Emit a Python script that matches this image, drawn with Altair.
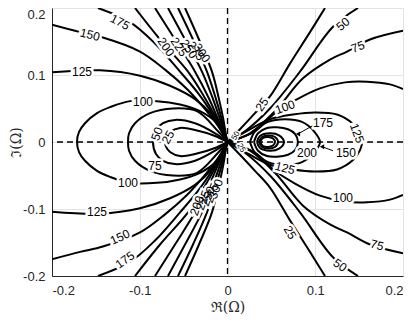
import altair as alt
import pandas as pd

# ---------------- data (upper half-plane; the figure is symmetric) ----
# Left fan contours: boundary -> origin
fan_left = {
    125: [(-0.200, 0.104), (-0.1453, 0.107), (-0.0997, 0.099), (-0.0655, 0.084), (-0.0370, 0.064), (-0.0177, 0.040), (-0.0063, 0.016), (0, 0)],
    150: [(-0.200, 0.175), (-0.168, 0.164), (-0.142, 0.156), (-0.0997, 0.135), (-0.0712, 0.108), (-0.0462, 0.079), (-0.0256, 0.049), (-0.0108, 0.024), (0, 0)],
    175: [(-0.1476, 0.200), (-0.1111, 0.179), (-0.0826, 0.147), (-0.0541, 0.105), (-0.0336, 0.073), (-0.0177, 0.043), (-0.0063, 0.018), (0, 0)],
    200: [(-0.1054, 0.200), (-0.0769, 0.153), (-0.0450, 0.105), (-0.0268, 0.068), (-0.0131, 0.036), (-0.0051, 0.013), (0, 0)],
    225: [(-0.0826, 0.200), (-0.0598, 0.153), (-0.0370, 0.105), (-0.0211, 0.065), (-0.0108, 0.034), (-0.0040, 0.013), (0, 0)],
    250: [(-0.0678, 0.200), (-0.0484, 0.153), (-0.0291, 0.105), (-0.0165, 0.064), (-0.0085, 0.034), (-0.0028, 0.012), (0, 0)],
    275: [(-0.0564, 0.200), (-0.0393, 0.153), (-0.0234, 0.105), (-0.0131, 0.064), (-0.0063, 0.033), (-0.0023, 0.012), (0, 0)],
    300: [(-0.0484, 0.200), (-0.0325, 0.153), (-0.0177, 0.105), (-0.0097, 0.064), (-0.0046, 0.033), (-0.0017, 0.010), (0, 0)],
}
# Right fan contours: origin -> boundary
fan_right = {
    25: [(0, 0), (0.0142, 0.019), (0.0313, 0.043), (0.0484, 0.068), (0.0712, 0.117), (0.0940, 0.164), (0.1111, 0.200)],
    50: [(0, 0), (0.0199, 0.016), (0.0484, 0.050), (0.0826, 0.105), (0.1202, 0.172), (0.1487, 0.200)],
    75: [(0, 0), (0.0256, 0.013), (0.0541, 0.046), (0.0860, 0.095), (0.1168, 0.123), (0.1362, 0.135), (0.1624, 0.153), (0.200, 0.166)],
    100: [(0, 0), (0.0313, 0.016), (0.0541, 0.043), (0.0769, 0.062), (0.1054, 0.080), (0.1339, 0.089), (0.1590, 0.090), (0.1852, 0.086), (0.200, 0.079)],
}
# Loops through the origin: origin -> crossing of the real axis
loops_origin = {
    25: [(0, 0), (-0.0142, 0.009), (-0.0370, 0.018), (-0.0541, 0.021), (-0.0655, 0.015), (-0.0701, 0.007), (-0.0712, 0)],
    50: [(0, 0), (-0.0142, 0.013), (-0.0370, 0.028), (-0.0598, 0.033), (-0.0735, 0.028), (-0.0815, 0.018), (-0.0849, 0)],
    75: [(0, 0), (-0.0108, 0.016), (-0.0348, 0.046), (-0.0621, 0.050), (-0.0883, 0.043), (-0.1054, 0.028), (-0.1122, 0.013), (-0.1134, 0)],
    100: [(0, 0), (-0.012, 0.028), (-0.0313, 0.046), (-0.0541, 0.056), (-0.0803, 0.061), (-0.1111, 0.061), (-0.1339, 0.052), (-0.1487, 0.043), (-0.1624, 0.028), (-0.1692, 0.015), (-0.1715, 0)],
    125: [(0, 0), (0.0256, 0.019), (0.0484, 0.034), (0.0746, 0.041), (0.0997, 0.044), (0.1248, 0.041), (0.1430, 0.027), (0.1510, 0.012), (0.1533, 0)],
}
# Closed loops around the peak near 0.045: left crossing -> right crossing
loops_peak = {
    150: [(0.0256, 0), (0.0313, 0.016), (0.0462, 0.030), (0.0655, 0.034), (0.0849, 0.030), (0.0986, 0.016), (0.1054, 0)],
    175: [(0.0302, 0), (0.0348, 0.013), (0.0450, 0.021), (0.0564, 0.022), (0.0689, 0.019), (0.0769, 0.012), (0.0803, 0)],
    200: [(0.0336, 0), (0.0370, 0.009), (0.0484, 0.013), (0.0587, 0.010), (0.0644, 0)],
    225: [(0.0359, 0), (0.0393, 0.0074), (0.0473, 0.0096), (0.0541, 0.0074), (0.0576, 0)],
    250: [(0.0370, 0), (0.0405, 0.0060), (0.0462, 0.0074), (0.0518, 0.0052), (0.0541, 0)],
}

# Contour labels: text, x, y, angle
label_text = ["175", "150", "125", "100", "50", "25",
              "200", "225", "250", "275", "300",
              "100", "75", "125", "150", "175",
              "200", "225", "250", "275", "300",
              "25", "50", "75", "100", "175", "200", "150", "125", "125", "100", "25", "50", "75"]
label_x = [-0.1225, -0.1567, -0.1658, -0.0963, -0.0803, -0.0678,
           -0.0701, -0.0553, -0.0439, -0.0359, -0.0291,
           -0.1134, -0.0826, -0.1487, -0.1225, -0.1168,
           -0.0348, -0.0279, -0.0222, -0.0177, -0.0131,
           0.0393, 0.1316, 0.1487, 0.0655, 0.1088, 0.0906, 0.1350, 0.1476, 0.0655, 0.1316, 0.0712, 0.1282, 0.1704]
label_y = [0.179, 0.160, 0.105, 0.059, 0.012, 0.007,
           0.142, 0.142, 0.139, 0.136, 0.133,
           -0.061, -0.036, -0.104, -0.142, -0.176,
           -0.095, -0.087, -0.081, -0.076, -0.070,
           0.056, 0.176, 0.142, 0.052, 0.028, -0.016, -0.016, 0.013, -0.039, -0.084, -0.135, -0.184, -0.154]
label_angle = [28, 14, 0, 0, 290, 300,
               55, 55, 55, 55, 55,
               0, 0, 0, 335, 325,
               290, 290, 290, 290, 290,
               305, 320, 340, 340, 0, 0, 0, 70, 15, 0, 60, 35, 15]

# Tiny, crowded labels next to the origin
small_text = ["50", "25"]
small_x = [0.0097, 0.0154]
small_y = [0.009, -0.009]
small_angle = [300, 60]

# Arrows from labels to their contour
arrow_x0 = [0.0966, 0.1202]
arrow_y0 = [0.024, -0.013]
arrow_x1 = [0.0803, 0.1077]
arrow_y1 = [0.012, -0.007]

ticks = [-0.2, -0.1, 0, 0.1, 0.2]

# ---------------- build tables ----------------
rows = []
cid = 0


def add(points, level):
    global cid
    for i, (x, y) in enumerate(points):
        rows.append({"cid": cid, "level": level, "i": i, "x": x, "y": y})
    cid += 1


for lev, pts in fan_left.items():
    add(pts, lev)
    add([(x, -y) for x, y in pts], lev)
for lev, pts in fan_right.items():
    add(pts, lev)
    add([(x, -y) for x, y in pts], lev)
for d in (loops_origin, loops_peak):
    for lev, pts in d.items():
        full = pts + [(x, -y) for x, y in reversed(pts[:-1])]
        add(full, lev)

df = pd.DataFrame(rows)
labels = pd.DataFrame({"t": label_text, "x": label_x, "y": label_y, "a": label_angle})
small = pd.DataFrame({"t": small_text, "x": small_x, "y": small_y, "a": small_angle})
arrows = pd.DataFrame({"x": arrow_x0, "y": arrow_y0, "x2": arrow_x1, "y2": arrow_y1})

xs = alt.Scale(domain=[-0.2, 0.2], nice=False)
ys = alt.Scale(domain=[-0.2, 0.2], nice=False)

lab_expr = "datum.value == 0 ? '0' : (datum.value < 0 ? '-' + format(-datum.value, '.1f') : format(datum.value, '.1f'))"

xaxis = alt.Axis(values=ticks, labelExpr=lab_expr, title="ℜ(Ω)", grid=True, gridColor="#e3e3e3",
                 domainColor="#262626", ticks=False, labelFont="Liberation Sans", labelFontSize=13,
                 labelColor="#262626", labelPadding=8, titleFont="DejaVu Serif", titleFontSize=14,
                 titleFontWeight="normal", titleColor="#262626",
                 titleX=175.5, titleY=31, titleBaseline="middle", titleAlign="center")
yaxis = alt.Axis(values=ticks, labelExpr=lab_expr, title="ℑ(Ω)", grid=True, gridColor="#e3e3e3",
                 domainColor="#262626", ticks=False, labelFont="Liberation Sans", labelFontSize=13,
                 labelColor="#262626", labelPadding=7,
                 labelBaseline={"condition": {"test": "datum.value > 0.15", "value": "top"}, "value": "middle"},
                 titleFont="DejaVu Serif", titleFontSize=14,
                 titleFontWeight="normal", titleColor="#262626",
                 titleX=-36, titleY=134, titleAngle=270, titleBaseline="middle", titleAlign="center")

base_lines = alt.Chart(df).mark_line(color="black", strokeWidth=2, interpolate="catmull-rom", clip=True).encode(
    x=alt.X("x:Q", scale=xs, axis=xaxis),
    y=alt.Y("y:Q", scale=ys, axis=yaxis),
    detail="cid:N",
    order=alt.Order("i:Q"),
)

zero = pd.DataFrame({"v": [0]})
vline = alt.Chart(zero).mark_rule(color="black", strokeWidth=1.3, strokeDash=[6, 4]).encode(x=alt.X("v:Q", scale=xs))
hline = alt.Chart(zero).mark_rule(color="black", strokeWidth=1.3, strokeDash=[6, 4]).encode(y=alt.Y("v:Q", scale=ys))


def text_layers(data, size, halo_w):
    enc = dict(x=alt.X("x:Q", scale=xs), y=alt.Y("y:Q", scale=ys), text="t:N",
               angle=alt.Angle("a:Q", scale=None))
    h = alt.Chart(data).mark_text(font="Liberation Sans", fontSize=size, color="white", stroke="white",
                                  strokeWidth=halo_w, baseline="middle", align="center").encode(**enc)
    t = alt.Chart(data).mark_text(font="Liberation Sans", fontSize=size, color="black",
                                  baseline="middle", align="center").encode(**enc)
    return h, t


halo, txt = text_layers(labels, 12, 5)
shalo, stxt = text_layers(small, 8, 3)

arr = alt.Chart(arrows).mark_rule(color="black", strokeWidth=1).encode(
    x=alt.X("x:Q", scale=xs), y=alt.Y("y:Q", scale=ys), x2="x2:Q", y2="y2:Q")
heads = alt.Chart(arrows).mark_point(shape="triangle-left", size=25, filled=True, color="black", opacity=1).encode(
    x=alt.X("x2:Q", scale=xs), y=alt.Y("y2:Q", scale=ys))

chart = alt.layer(base_lines, vline, hline, halo, txt, shalo, stxt, arr, heads).properties(
    width=351, height=268,
    autosize=alt.AutoSizeParams(type="none"),
    padding={"left": 44, "top": 0, "right": 4, "bottom": 40},
).configure_view(stroke=None).configure(background="white")

chart.save("out.html", embed_options={"renderer": "svg", "actions": False})
